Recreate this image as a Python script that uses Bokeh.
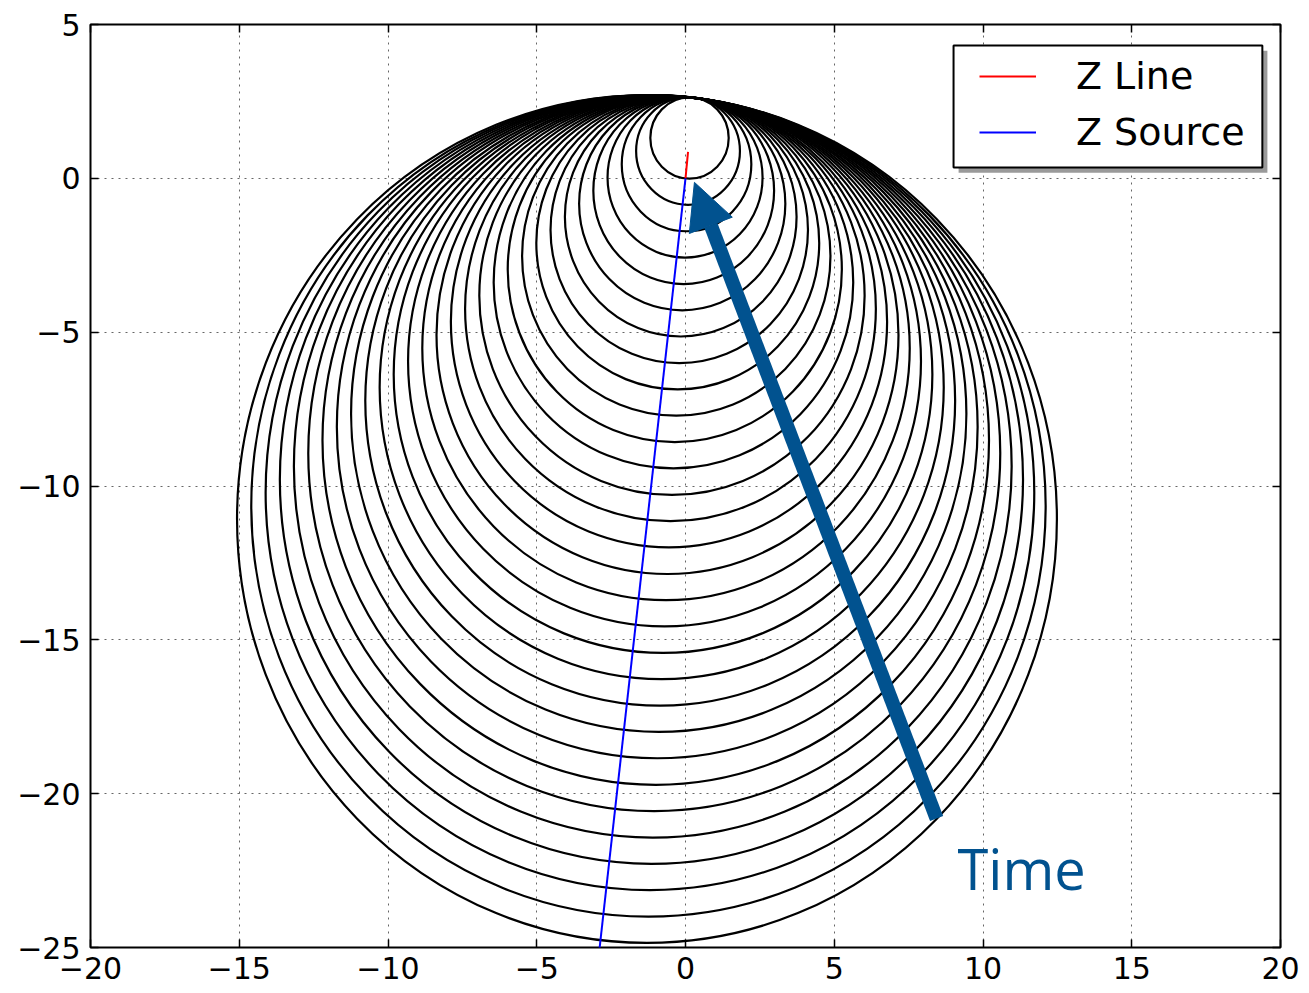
import math
from bokeh.plotting import figure
from bokeh.models import (FixedTicker, Range1d, LinearAxis, Legend, LegendItem,
                          Arrow, NormalHead, Label, BoxAnnotation)
from bokeh.embed import file_html
from bokeh.resources import INLINE

# ---- data -------------------------------------------------------------
x_ticks = [-20, -15, -10, -5, 0, 5, 10, 15, 20]
x_tick_labels = ["−20", "−15", "−10", "−5", "0", "5", "10", "15", "20"]
y_ticks = [-25, -20, -15, -10, -5, 0, 5]
y_tick_labels = ["−25", "−20", "−15", "−10", "−5", "0", "5"]

# reach point shared by every circle (top of the diameter)
z_reach = (0.27, 2.62)
# Z line and Z source vectors (start at origin)
z_line_x = [0.0, 0.085]
z_line_y = [0.0, 0.86]
z_source_x = [0.0, -2.92]
z_source_y = [0.0, -25.3]

# opposite end of each circle's diameter (on the Z source line)
circle_bottom_x = [0.00, -0.10, -0.20, -0.30, -0.39, -0.49, -0.59, -0.69, -0.79, -0.89,
                   -0.99, -1.08, -1.18, -1.28, -1.38, -1.48, -1.58, -1.68, -1.78, -1.87,
                   -1.97, -2.07, -2.17, -2.27, -2.37, -2.47, -2.56, -2.66, -2.76, -2.86]
circle_bottom_y = [0.00, -0.85, -1.71, -2.56, -3.42, -4.27, -5.12, -5.98, -6.83, -7.68,
                   -8.54, -9.39, -10.25, -11.10, -11.95, -12.81, -13.66, -14.51, -15.37, -16.22,
                   -17.08, -17.93, -18.78, -19.64, -20.49, -21.35, -22.20, -23.05, -23.91, -24.76]

# "Time" arrow (tail -> tip) and label
arrow_tail = (8.44, -20.81)
arrow_tip = (0.30, -0.13)
time_label_pos = (9.14, -22.40)
arrow_color = "#01528F"

# legend frame (data coordinates)
legend_box = dict(left=9.01, right=19.39, top=4.32, bottom=0.35)
shadow_dx, shadow_dy = 0.17, -0.17

# ---- derived circle geometry -----------------------------------------
cx = [(z_reach[0] + bx) / 2 for bx in circle_bottom_x]
cy = [(z_reach[1] + by) / 2 for by in circle_bottom_y]
diam = [math.hypot(z_reach[0] - bx, z_reach[1] - by)
        for bx, by in zip(circle_bottom_x, circle_bottom_y)]

# ---- figure -----------------------------------------------------------
p = figure(width=1309, height=993, x_range=Range1d(-20, 20), y_range=Range1d(-25, 5),
           output_backend="svg", toolbar_location=None,
           min_border_left=90, min_border_right=29, min_border_top=24, min_border_bottom=46)
p.background_fill_color = "white"
p.border_fill_color = "white"
p.outline_line_color = "black"
p.outline_line_width = 2

font = "DejaVu Sans"
for ax, ticks, labels, standoff in ((p.xaxis[0], x_ticks, x_tick_labels, 9),
                                    (p.yaxis[0], y_ticks, y_tick_labels, 10)):
    ax.ticker = FixedTicker(ticks=ticks)
    ax.major_label_overrides = {t: l for t, l in zip(ticks, labels)}
    ax.major_label_text_font = font
    ax.major_label_text_font_size = "30px"
    ax.major_label_text_color = "black"
    ax.major_label_standoff = standoff
    ax.major_tick_in = 8
    ax.major_tick_out = 0
    ax.major_tick_line_width = 1.5
    ax.major_tick_line_color = "black"
    ax.minor_tick_line_color = None
    ax.axis_line_color = None

for loc, ticks in (("above", x_ticks), ("right", y_ticks)):
    ax = LinearAxis(ticker=FixedTicker(ticks=ticks))
    ax.major_label_text_font_size = "1px"
    ax.major_label_text_color = None
    ax.major_label_standoff = 0
    ax.major_tick_in = 8
    ax.major_tick_out = 0
    ax.major_tick_line_width = 1.5
    ax.minor_tick_line_color = None
    ax.axis_line_color = None
    p.add_layout(ax, loc)

p.xgrid.ticker = FixedTicker(ticks=x_ticks)
p.ygrid.ticker = FixedTicker(ticks=y_ticks)
for g in (p.xgrid[0], p.ygrid[0]):
    g.grid_line_color = "black"
    g.grid_line_alpha = 0.6
    g.grid_line_dash = "2 5"
    g.grid_line_width = 1

# circles
p.ellipse(x=cx, y=cy, width=diam, height=diam, fill_color=None,
          line_color="black", line_width=2.2)

r_line = p.line(z_line_x, z_line_y, line_color="#ff0000", line_width=2)
r_src = p.line(z_source_x, z_source_y, line_color="#0000ff", line_width=2)

# arrow + label
arrow = Arrow(end=NormalHead(size=46, fill_color=arrow_color, line_color=arrow_color, line_width=1),
              x_start=arrow_tail[0], y_start=arrow_tail[1], x_end=arrow_tip[0], y_end=arrow_tip[1],
              line_color=arrow_color, line_width=14)
p.add_layout(arrow)
p.add_layout(Label(x=time_label_pos[0], y=time_label_pos[1], text="Time", text_font="Open Sans",
                   text_font_size="56px", text_color=arrow_color, text_baseline="alphabetic"))

# legend frame with shadow
p.add_layout(BoxAnnotation(left=legend_box["left"] + shadow_dx, right=legend_box["right"] + shadow_dx,
                           top=legend_box["top"] + shadow_dy, bottom=legend_box["bottom"] + shadow_dy,
                           fill_color="#9a9a9a", fill_alpha=1, line_color=None))
p.add_layout(BoxAnnotation(left=legend_box["left"], right=legend_box["right"],
                           top=legend_box["top"], bottom=legend_box["bottom"],
                           fill_color="white", fill_alpha=1, line_color="black", line_width=2,
                           line_alpha=1))

legend = Legend(items=[LegendItem(label="Z Line", renderers=[r_line]),
                       LegendItem(label="Z Source", renderers=[r_src])],
                location=(889, 793), border_line_color=None, background_fill_alpha=0,
                padding=10, spacing=12, glyph_width=57, glyph_height=20, label_standoff=40,
                label_text_font=font, label_text_font_size="38px", label_text_color="black",
                margin=0)
p.add_layout(legend)

open("out.html", "w").write(file_html(p, INLINE))
